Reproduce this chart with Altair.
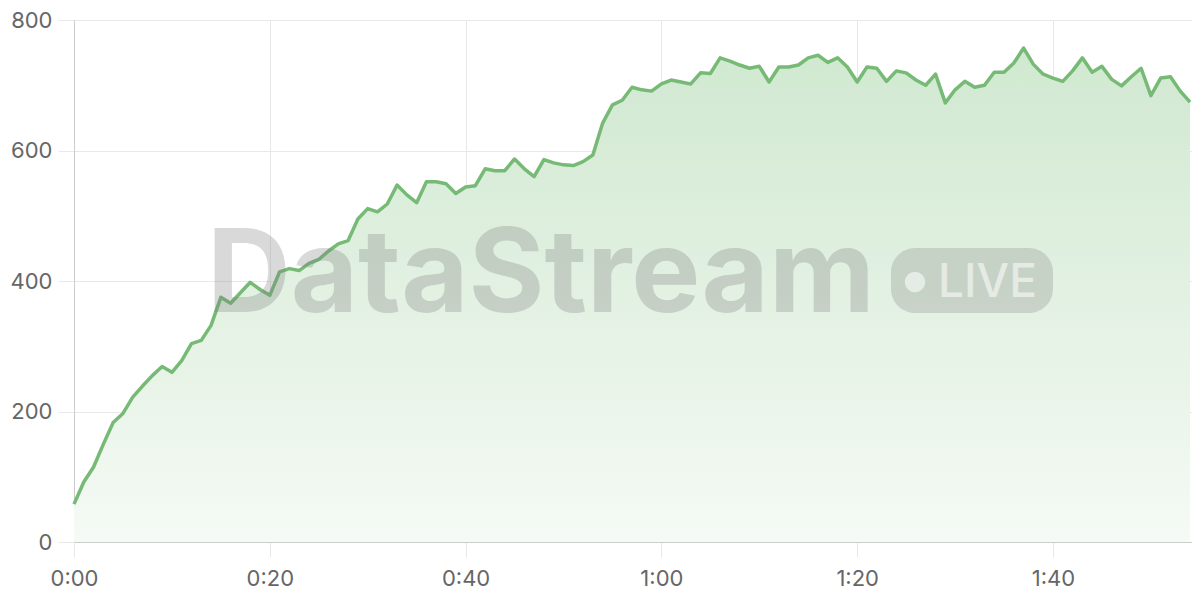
import altair as alt
import pandas as pd

values = [58, 92, 115, 150, 183, 197, 222, 239, 255, 269,
          260, 278, 304, 309, 332, 375, 366, 382, 398, 387,
          378, 414, 419, 416, 427, 433, 446, 457, 462, 495,
          511, 506, 518, 547, 532, 520, 552, 552, 549, 534,
          544, 546, 572, 569, 569, 587, 572, 560, 586, 581,
          578, 577, 583, 593, 642, 670, 677, 697, 693, 691,
          702, 708, 705, 702, 719, 718, 742, 737, 731, 726,
          729, 705, 728, 728, 731, 742, 746, 735, 742, 728,
          705, 728, 726, 706, 722, 719, 708, 700, 717, 673,
          693, 706, 697, 700, 720, 720, 734, 757, 732, 717,
          711, 706, 722, 742, 720, 729, 709, 699, 713, 726,
          684, 711, 713, 691, 674]
seconds = list(range(len(values)))
x_ticks = [0, 20, 40, 60, 80, 100]
y_ticks = [0, 200, 400, 600, 800]
watermark = "DataStream"
badge = "LIVE"

df = pd.DataFrame({"t": seconds, "v": values})
one = pd.DataFrame({"k": [0]})

GRID = "#e8e8e8"
LINE = "#76ba76"
FONT = "Inter"

x_enc = alt.X("t:Q", scale=alt.Scale(domain=[0, 114.2], nice=False, zero=False),
              axis=alt.Axis(values=x_ticks, title=None,
                            labelExpr="floor(datum.value/60) + ':' + (datum.value%60 < 10 ? '0' : '') + (datum.value%60)",
                            grid=True, gridColor=GRID, tickColor=GRID, tickSize=15,
                            domainColor="#cccccc", labelFontSize=22, labelColor="#666666",
                            labelFont=FONT, labelPadding=11, labelFlush=False))
y_enc = alt.Y("v:Q", scale=alt.Scale(domain=[0, 800], nice=False),
              axis=alt.Axis(values=y_ticks, title=None, grid=True, gridColor=GRID,
                            tickColor=GRID, tickSize=16, domainColor="#cccccc",
                            labelFontSize=22, labelColor="#666666", labelFont=FONT,
                            labelPadding=6))

area = alt.Chart(df).mark_area(
    color=alt.Gradient(gradient="linear",
                       stops=[alt.GradientStop(color="#f5faf5", offset=0),
                              alt.GradientStop(color="#d0e8d0", offset=1)],
                       x1=1, x2=1, y1=1, y2=0),
    line=False
).encode(x=x_enc, y=y_enc)

line = alt.Chart(df).mark_line(color=LINE, strokeWidth=3.5, strokeJoin="round").encode(
    x=alt.X("t:Q"), y=alt.Y("v:Q"))

wm_text = alt.Chart(one).mark_text(
    text=watermark, font=FONT, fontWeight="bold", fontSize=116, align="left",
    baseline="alphabetic", color="#7a7a7a", opacity=0.28
).encode(x=alt.value(133), y=alt.value(292))

pill = alt.Chart(one).mark_rect(cornerRadius=24, color="#7a7a7a", opacity=0.26).encode(
    x=alt.value(817), x2=alt.value(979), y=alt.value(228), y2=alt.value(293))

dot = alt.Chart(one).mark_circle(color="white", opacity=0.55, size=420).encode(
    x=alt.value(841), y=alt.value(262))

live = alt.Chart(one).mark_text(
    text=badge, font=FONT, fontWeight=500, fontSize=46, align="left",
    baseline="alphabetic", color="white", opacity=0.55
).encode(x=alt.value(864), y=alt.value(277))

chart = alt.layer(area, line, wm_text, pill, dot, live).properties(
    width=1118, height=522,
    padding={"left": 66, "top": 12, "right": 0, "bottom": 50},
    autosize=alt.AutoSizeParams(type="none"),
    background="white"
).configure_view(stroke=None)

chart.save("out.html", embed_options={"renderer": "svg", "actions": False})
